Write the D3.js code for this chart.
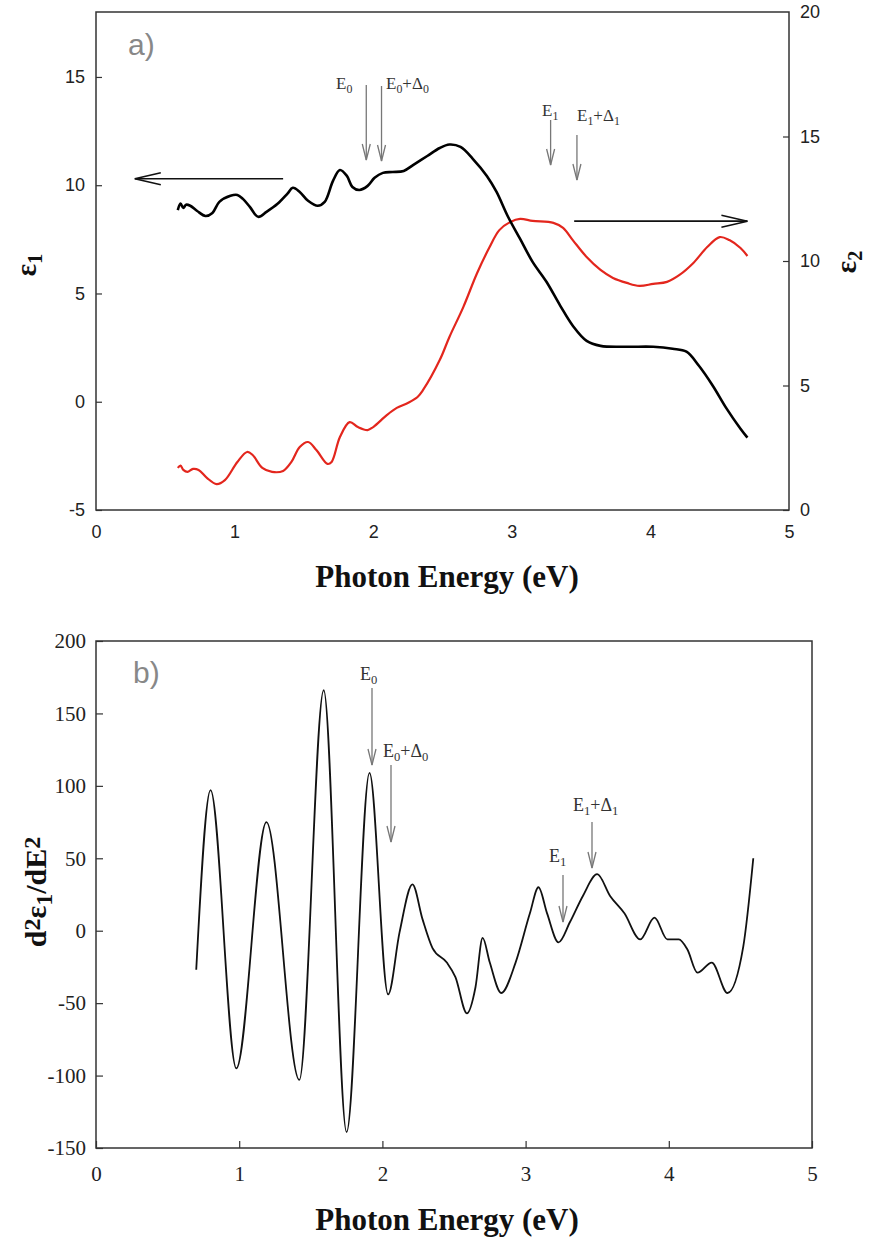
<!DOCTYPE html>
<html>
<head>
<meta charset="utf-8">
<script src="https://cdn.jsdelivr.net/npm/d3@7"></script>
<style>
  html, body { margin: 0; padding: 0; background: #fff; }
  svg { display: block; }
</style>
</head>
<body>
<svg id="chart" width="880" height="1241"></svg>
<script>
// ---- Panel a: dielectric function ----
const eps1Energy = [0.59,0.61,0.63,0.65,0.68,0.73,0.79,0.84,0.89,0.97,1.02,1.06,1.11,1.17,1.23,1.31,1.38,1.42,1.47,1.53,1.60,1.65,1.71,1.76,1.81,1.85,1.90,1.96,2.01,2.07,2.14,2.22,2.29,2.39,2.48,2.55,2.63,2.72,2.82,2.89,2.97,3.06,3.15,3.25,3.35,3.44,3.54,3.64,3.83,4.02,4.16,4.26,4.35,4.45,4.55,4.65,4.70];
const eps1Values = [8.85,9.15,8.95,9.1,9.05,8.81,8.58,8.72,9.23,9.51,9.55,9.37,9.0,8.54,8.77,9.14,9.6,9.88,9.69,9.28,9.05,9.23,10.2,10.7,10.43,9.92,9.78,9.97,10.34,10.57,10.61,10.66,10.94,11.35,11.72,11.88,11.77,11.21,10.43,9.69,8.58,7.52,6.46,5.54,4.43,3.51,2.81,2.58,2.54,2.54,2.45,2.31,1.66,0.74,-0.32,-1.25,-1.66];

const eps2Energy = [0.59,0.61,0.63,0.66,0.70,0.74,0.80,0.87,0.93,1.02,1.09,1.13,1.20,1.27,1.35,1.41,1.47,1.53,1.59,1.67,1.70,1.76,1.83,1.89,1.96,2.00,2.10,2.17,2.25,2.32,2.36,2.48,2.55,2.65,2.75,2.84,2.91,2.99,3.06,3.15,3.30,3.37,3.44,3.54,3.64,3.73,3.83,3.92,4.02,4.12,4.21,4.31,4.41,4.50,4.57,4.65,4.70];
const eps2Values = [1.69,1.78,1.61,1.53,1.65,1.61,1.29,1.04,1.20,1.93,2.33,2.21,1.69,1.53,1.57,1.93,2.53,2.73,2.41,1.85,1.93,2.93,3.53,3.33,3.21,3.33,3.82,4.10,4.30,4.54,4.82,6.02,6.95,8.15,9.52,10.56,11.24,11.57,11.69,11.61,11.53,11.33,10.84,10.16,9.64,9.32,9.12,9.00,9.08,9.16,9.44,9.92,10.56,10.96,10.84,10.52,10.20];

// ---- Panel b: second derivative of eps1 ----
const d2Energy = [0.70,0.80,0.98,1.19,1.42,1.59,1.75,1.91,2.04,2.12,2.21,2.28,2.35,2.45,2.51,2.59,2.65,2.70,2.75,2.83,2.93,3.03,3.09,3.15,3.23,3.31,3.40,3.50,3.59,3.69,3.80,3.90,3.99,4.07,4.13,4.20,4.30,4.41,4.52,4.59];
const d2Values = [-27,97,-95,75,-103,166,-139,109,-44,-1,32,8,-12,-22,-32,-57,-39,-5,-22,-43,-22,12,30,12,-8,6,24,39,24,12,-6,9,-6,-6,-13,-29,-22,-43,-11,50];

// ---- Tick labels ----
const xTicks = [0,1,2,3,4,5];
const eps1Ticks = [-5,0,5,10,15];
const eps2Ticks = [0,5,10,15,20];
const d2Ticks = [-150,-100,-50,0,50,100,150,200];

const svg = d3.select("#chart");
const serif = "'Liberation Serif','Times New Roman',serif";
const sans = "'Liberation Sans',Arial,sans-serif";
const fmt = d => String(d);   // plain hyphen for negatives

function openHead(g, x, y, dir, len, half, color, width) {
  let p;
  if (dir === "down") p = `M${x-half},${y-len}L${x},${y}L${x+half},${y-len}`;
  else if (dir === "left") p = `M${x+len},${y-half}L${x},${y}L${x+len},${y+half}`;
  else p = `M${x-len},${y-half}L${x},${y}L${x-len},${y+half}`;
  g.append("path").attr("d", p).attr("fill","none").attr("stroke",color).attr("stroke-width",width);
}

function label(g, x, y, sub, plus, size) {
  const t = g.append("text").attr("x", x).attr("y", y)
    .attr("font-family", serif).attr("font-size", size).attr("fill", "#333");
  t.append("tspan").text("E");
  t.append("tspan").attr("dy", 4).attr("font-size", size*0.7).text(sub);
  if (plus) {
    t.append("tspan").attr("dy", -4).text("+Δ");
    t.append("tspan").attr("dy", 4).attr("font-size", size*0.7).text(sub);
  }
}

function downArrow(g, x, yTop, yBot) {
  g.append("line").attr("x1",x).attr("x2",x).attr("y1",yTop).attr("y2",yBot)
    .attr("stroke","#777").attr("stroke-width",1.3);
  openHead(g, x, yBot, "down", 16, 4, "#777", 1.3);
}

// ================= Panel a =================
{
  const L = 96, R = 789, T = 12, B = 510;
  const x = d3.scaleLinear().domain([0,5]).range([L,R]);
  const yL = d3.scaleLinear().domain([-5,18]).range([B,T]);
  const yR = d3.scaleLinear().domain([0,20]).range([B,T]);
  const g = svg.append("g");

  const ax = (sel) => { sel.select(".domain").remove(); sel.selectAll(".tick line").attr("stroke","#333").attr("stroke-width",1.2); sel.selectAll("text").attr("font-family",sans).attr("font-size",18).attr("fill","#222"); };

  g.append("g").attr("transform",`translate(${L},0)`)
    .call(d3.axisLeft(yL).tickValues(eps1Ticks).tickSize(-6).tickPadding(11).tickFormat(fmt))
    .call(ax);
  g.append("g").attr("transform",`translate(${R},0)`)
    .call(d3.axisRight(yR).tickValues(eps2Ticks).tickSize(-6).tickPadding(11).tickFormat(fmt))
    .call(ax);
  g.append("g").attr("transform",`translate(0,${B})`)
    .call(d3.axisBottom(x).tickValues(xTicks).tickSize(0).tickPadding(15).tickFormat(fmt))
    .call(ax);
  g.selectAll(".tick").filter(d => d === 20).select("line").remove();

  g.append("rect").attr("x",L).attr("y",T).attr("width",R-L).attr("height",B-T)
    .attr("fill","none").attr("stroke","#333").attr("stroke-width",1.5);

  const lineL = d3.line().x((d,i)=>x(eps1Energy[i])).y(d=>yL(d)).curve(d3.curveCatmullRom.alpha(0.5));
  const lineR = d3.line().x((d,i)=>x(eps2Energy[i])).y(d=>yR(d)).curve(d3.curveCatmullRom.alpha(0.5));
  g.append("path").attr("d", lineR(eps2Values)).attr("fill","none").attr("stroke","#e3261d").attr("stroke-width",2.2);
  g.append("path").attr("d", lineL(eps1Values)).attr("fill","none").attr("stroke","#000").attr("stroke-width",2.6);

  // direction arrows pointing at each axis
  const ya = yL(10.3);
  g.append("line").attr("x1",x(1.35)).attr("x2",x(0.28)).attr("y1",ya).attr("y2",ya).attr("stroke","#111").attr("stroke-width",1.6);
  openHead(g, x(0.28), ya, "left", 26, 6, "#111", 1.6);
  const yb = yR(11.6);
  g.append("line").attr("x1",x(3.45)).attr("x2",x(4.7)).attr("y1",yb).attr("y2",yb).attr("stroke","#111").attr("stroke-width",1.6);
  openHead(g, x(4.7), yb, "right", 26, 6, "#111", 1.6);

  // critical points
  downArrow(g, x(1.95), 85, 160); label(g, 336, 89, "0", false, 17);
  downArrow(g, x(2.06), 86, 161); label(g, 386, 89, "0", true, 17);
  downArrow(g, x(3.28), 120, 165); label(g, 542, 116, "1", false, 17);
  downArrow(g, x(3.47), 135, 180); label(g, 577, 121, "1", true, 17);

  g.append("text").attr("x",128).attr("y",55).attr("font-family",sans).attr("font-size",30).attr("fill","#888").text("a)");

  const yl = g.append("text").attr("transform","translate(36,265) rotate(-90)").attr("text-anchor","middle")
    .attr("font-family",serif).attr("font-weight","bold").attr("font-size",29).attr("fill","#111");
  yl.append("tspan").text("ε");
  yl.append("tspan").attr("dy",6).attr("font-size",20).text("1");
  const yr = g.append("text").attr("transform","translate(856,262) rotate(-90)").attr("text-anchor","middle")
    .attr("font-family",serif).attr("font-weight","bold").attr("font-size",29).attr("fill","#111");
  yr.append("tspan").text("ε");
  yr.append("tspan").attr("dy",6).attr("font-size",20).text("2");

  g.append("text").attr("x",447).attr("y",587).attr("text-anchor","middle").attr("font-family",serif)
    .attr("font-weight","bold").attr("font-size",31).attr("fill","#111").text("Photon Energy (eV)");
}

// ================= Panel b =================
{
  const L = 96, R = 812, T = 641, B = 1148;
  const x = d3.scaleLinear().domain([0,5]).range([L,R]);
  const y = d3.scaleLinear().domain([-150,200]).range([B,T]);
  const g = svg.append("g");
  const ax = (sel) => { sel.select(".domain").remove(); sel.selectAll(".tick line").attr("stroke","#333").attr("stroke-width",1.2); sel.selectAll("text").attr("font-family",serif).attr("font-size",21).attr("fill","#222"); };

  g.append("g").attr("transform",`translate(${L},0)`)
    .call(d3.axisLeft(y).tickValues(d2Ticks).tickSize(-7).tickPadding(10).tickFormat(fmt))
    .call(ax);
  g.append("g").attr("transform",`translate(0,${B})`)
    .call(d3.axisBottom(x).tickValues(xTicks).tickSize(-7).tickPadding(18).tickFormat(fmt))
    .call(ax);

  g.append("rect").attr("x",L).attr("y",T).attr("width",R-L).attr("height",B-T)
    .attr("fill","none").attr("stroke","#333").attr("stroke-width",1.5);

  const line = d3.line().x((d,i)=>x(d2Energy[i])).y(d=>y(d)).curve(d3.curveMonotoneX);
  g.append("path").attr("d", line(d2Values)).attr("fill","none").attr("stroke","#111").attr("stroke-width",1.8);

  downArrow(g, 372, 688, 765); label(g, 360, 680, "0", false, 18);
  downArrow(g, 391, 765, 842); label(g, 383, 757, "0", true, 18);
  downArrow(g, 563, 875, 922); label(g, 549, 862, "1", false, 18);
  downArrow(g, 592, 822, 868); label(g, 573, 811, "1", true, 18);

  g.append("text").attr("x",133).attr("y",683).attr("font-family",sans).attr("font-size",30).attr("fill","#888").text("b)");

  const yl = g.append("text").attr("transform","translate(46,892) rotate(-90)").attr("text-anchor","middle")
    .attr("font-family",serif).attr("font-weight","bold").attr("font-size",30).attr("fill","#111");
  yl.append("tspan").text("d");
  yl.append("tspan").attr("dy",-6).attr("font-size",24).text("2");
  yl.append("tspan").attr("dy",6).text("ε");
  yl.append("tspan").attr("dy",6).attr("font-size",24).text("1");
  yl.append("tspan").attr("dy",-6).text("/dE");
  yl.append("tspan").attr("dy",-6).attr("font-size",24).text("2");

  g.append("text").attr("x",447).attr("y",1230).attr("text-anchor","middle").attr("font-family",serif)
    .attr("font-weight","bold").attr("font-size",31).attr("fill","#111").text("Photon Energy (eV)");
}
</script>
</body>
</html>
